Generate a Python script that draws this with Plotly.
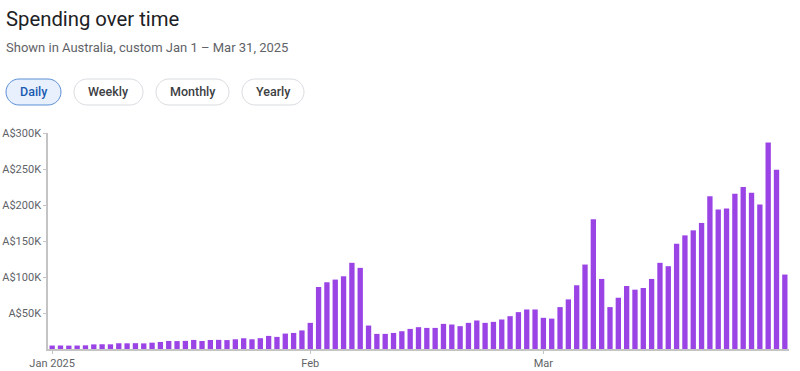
import plotly.graph_objects as go
import pandas as pd

# Daily spending in thousands of A$ (Jan 1 – Mar 30, 2025)
jan_values = [4.8, 4.9, 4.7, 4.8, 5.1, 6.4, 6.6, 6.5, 8.0, 7.9, 8.1, 7.8, 8.8, 9.8, 11.2, 11.0,
              11.3, 12.6, 11.1, 12.5, 12.7, 12.4, 13.5, 14.9, 13.5, 15.0, 18.2, 16.8, 21.4, 22.3, 25.8]
feb_values = [36.3, 86.1, 92.7, 96.4, 101.0, 119.7, 112.7, 32.6, 21.0, 21.0, 22.3, 24.7, 27.9, 30.3,
              29.3, 29.3, 34.9, 34.0, 31.7, 36.3, 39.6, 36.3, 37.7, 41.0, 45.6, 51.2, 54.9, 54.9]
mar_values = [43.3, 42.2, 58.2, 68.9, 88.5, 117.3, 180.2, 97.3, 58.2, 71.2, 87.5, 82.4, 84.7, 97.3,
              119.7, 115.0, 146.2, 157.8, 164.8, 175.1, 212.3, 193.7, 195.1, 215.6, 224.9, 217.0,
              200.7, 286.8, 249.1, 103.4]
values = jan_values + feb_values + mar_values
dates = pd.date_range("2025-01-01", periods=len(values), freq="D")

y_tickvals = [50, 100, 150, 200, 250, 300]
y_ticktext = ["A$50K", "A$100K", "A$150K", "A$200K", "A$250K", "A$300K"]
x_tickvals = ["2025-01-01", "2025-02-01", "2025-03-01"]
x_ticktext = ["Jan 2025", "Feb", "Mar"]

title_text = "Spending over time"
subtitle_text = "Shown in Australia, custom Jan 1 – Mar 31, 2025"
buttons = ["Daily", "Weekly", "Monthly", "Yearly"]

W, H = 800, 371
L, R, T, B = 48, 11, 133, 22
PW, PH = W - L - R, H - T - B


def px(x):
    return (x - L) / PW


def py(y):
    return (H - B - y) / PH


def pill_path(x0, y0, x1, y1):
    r = (y1 - y0) / 2
    k = 0.5523 * r

    def P(x, y):
        return f"{px(x):.5f},{py(y):.5f}"
    d = f"M {P(x0 + r, y0)} L {P(x1 - r, y0)} "
    d += f"C {P(x1 - r + k, y0)} {P(x1, y0 + r - k)} {P(x1, y0 + r)} "
    d += f"C {P(x1, y0 + r + k)} {P(x1 - r + k, y1)} {P(x1 - r, y1)} "
    d += f"L {P(x0 + r, y1)} "
    d += f"C {P(x0 + r - k, y1)} {P(x0, y0 + r + k)} {P(x0, y0 + r)} "
    d += f"C {P(x0, y0 + r - k)} {P(x0 + r - k, y0)} {P(x0 + r, y0)} Z"
    return d


fig = go.Figure(go.Bar(
    x=dates, y=values,
    marker=dict(color="#9b44e6", line=dict(width=0)),
    hovertemplate="%{x|%b %d}: A$%{y:.1f}K<extra></extra>",
))

pills = [(6, 79, 61, 105), (74, 79, 143, 105), (156, 79, 229, 105), (242, 79, 304, 105)]
shapes = []
annotations = []
for i, (lab, (x0, y0, x1, y1)) in enumerate(zip(buttons, pills)):
    sel = i == 0
    shapes.append(dict(
        type="path", xref="paper", yref="paper", path=pill_path(x0, y0, x1, y1),
        fillcolor="#e8f0fe" if sel else "#ffffff",
        line=dict(color="#5b8fd6" if sel else "#dadce0", width=1),
        layer="above",
    ))
    annotations.append(dict(
        x=px((x0 + x1) / 2), y=py((y0 + y1) / 2), xref="paper", yref="paper",
        text=lab, showarrow=False,
        xanchor="center", yanchor="middle",
        font=dict(family="Roboto, Arial", size=12.5, color="#1a5bb0" if sel else "#3c4043",
                  weight=500),
    ))

annotations.append(dict(
    x=px(4), y=py(19), xref="paper", yref="paper", text=title_text, showarrow=False,
    xanchor="left", yanchor="middle",
    font=dict(family="Roboto, Arial", size=20.3, color="#202124"),
))
annotations.append(dict(
    x=px(4), y=py(48), xref="paper", yref="paper", text=subtitle_text, showarrow=False,
    xanchor="left", yanchor="middle",
    font=dict(family="Roboto, Arial", size=13, color="#5f6368"),
))

fig.update_layout(
    width=W, height=H,
    margin=dict(l=L, r=R, t=T, b=B, pad=0, autoexpand=False),
    paper_bgcolor="white", plot_bgcolor="white",
    bargap=0.36,
    showlegend=False,
    shapes=shapes,
    annotations=annotations,
    xaxis=dict(
        type="date", automargin=False,
        range=["2024-12-31 12:00", "2025-03-30 12:00"],
        tickmode="array", tickvals=x_tickvals, ticktext=x_ticktext,
        showgrid=False, zeroline=False,
        showline=True, linecolor="#c4c4c4", linewidth=1.5,
        ticks="outside", ticklen=3, tickcolor="#c4c4c4",
        tickfont=dict(family="Roboto, Arial", size=11, color="#5f6368"),
        fixedrange=True,
    ),
    yaxis=dict(
        automargin=False,
        range=[0, 300],
        tickmode="array", tickvals=y_tickvals, ticktext=y_ticktext,
        showgrid=False, zeroline=False,
        showline=True, linecolor="#c4c4c4", linewidth=1.5,
        ticks="outside", ticklen=3, tickcolor="#c4c4c4",
        tickfont=dict(family="Roboto, Arial", size=11, color="#5f6368"),
        fixedrange=True,
    ),
)

fig.write_html(
    "out.html",
    config={"displayModeBar": False},
    post_script="document.body.style.margin='0';document.body.style.padding='0';"
                "document.documentElement.style.overflow='hidden';",
)
